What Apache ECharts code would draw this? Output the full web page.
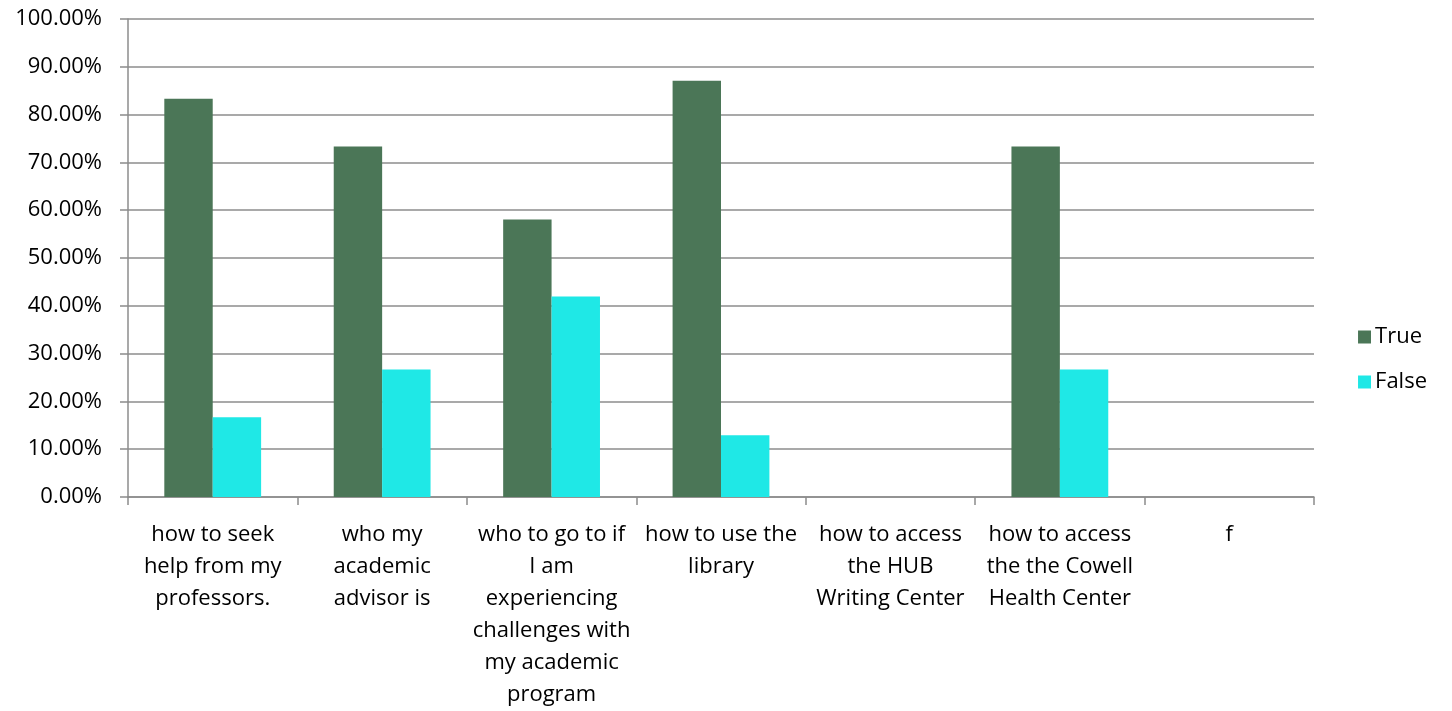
<!DOCTYPE html>
<html><head><meta charset="utf-8">
<script src="https://cdn.jsdelivr.net/npm/echarts@6/dist/echarts.min.js"></script>
<style>html,body{margin:0;padding:0;background:#fff;overflow:hidden}#c{width:1452px;height:711px}</style>
</head><body><div id="c"></div>
<script>
var categories = [
  "how to seek\nhelp from my\nprofessors.",
  "who my\nacademic\nadvisor is",
  "who to go to if\nI am\nexperiencing\nchallenges with\nmy academic\nprogram",
  "how to use the\nlibrary",
  "how to access\nthe HUB\nWriting Center",
  "how to access\nthe the Cowell\nHealth Center",
  "f"
];
var trueValues = [83.33, 73.33, 58.06, 87.10, 0, 73.33, 0];
var falseValues = [16.67, 26.67, 41.94, 12.90, 0, 26.67, 0];
var yTicks = { min: 0, max: 100, interval: 10 };

var font = "'Open Sans', 'Liberation Sans', sans-serif";
var chart = echarts.init(document.getElementById('c'));
chart.setOption({
  animation: false,
  textStyle: { fontFamily: font },
  grid: { left: 128, width: 1186, top: 19, height: 482, containLabel: false },
  legend: {
    orient: 'vertical', right: 20, top: 321,
    itemWidth: 13, itemHeight: 13, itemGap: 23, icon: 'rect',
    textStyle: { fontSize: 22, color: '#000', fontFamily: font, padding: [0,0,0,-1] },
    data: ['True', 'False']
  },
  xAxis: {
    type: 'category', data: categories,
    axisLine: { lineStyle: { color: '#8c8c8c', width: 1.5 } },
    axisTick: { show: true, length: 8, alignWithLabel: false, lineStyle: { color: '#8c8c8c', width: 1.5 } },
    axisLabel: { interval: 0, fontSize: 22, color: '#000', lineHeight: 32, margin: 22, fontFamily: font }
  },
  yAxis: {
    type: 'value', min: yTicks.min, max: yTicks.max, interval: yTicks.interval,
    axisLine: { show: true, lineStyle: { color: '#8c8c8c', width: 1.5 } },
    axisTick: { show: true, length: 8, lineStyle: { color: '#8c8c8c', width: 1.5 } },
    splitLine: { show: true, lineStyle: { color: '#8c8c8c', width: 1.5 } },
    axisLabel: { fontSize: 22, color: '#000', margin: 26, fontFamily: font,
      formatter: function (v) { return v.toFixed(2) + '%'; } }
  },
  series: [
    { name: 'True', type: 'bar', data: trueValues, barWidth: '28.57%', barGap: '0%',
      itemStyle: { color: '#4b7657' } },
    { name: 'False', type: 'bar', data: falseValues, barWidth: '28.57%', barGap: '0%',
      itemStyle: { color: '#1fe8e6' } }
  ]
});
</script></body></html>
